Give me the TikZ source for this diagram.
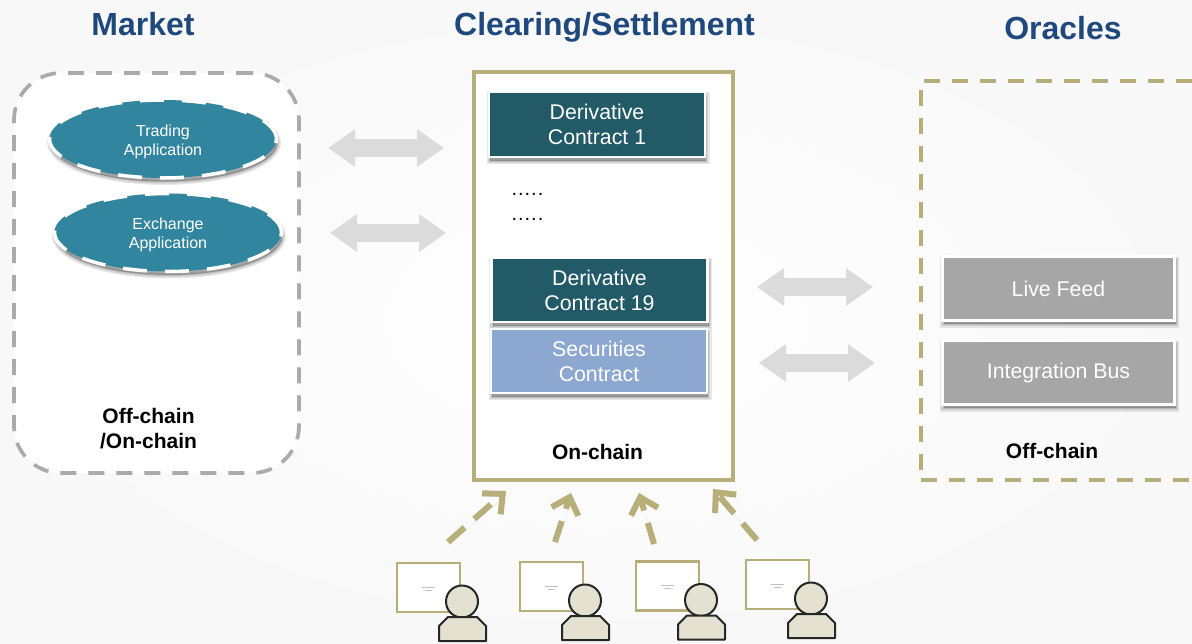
\documentclass[tikz,border=0pt]{standalone}
\usepackage{fontspec}
\setmainfont{Liberation Sans}
\usetikzlibrary{arrows.meta,shapes.geometric}

\definecolor{titleblue}{HTML}{1F497D}
\definecolor{olive}{HTML}{B8AE7A}
\definecolor{tealapp}{HTML}{31859F}
\definecolor{darkteal}{HTML}{225A68}
\definecolor{softblue}{HTML}{8CA8D0}
\definecolor{feedgray}{HTML}{A6A6A6}
\definecolor{dashgray}{HTML}{ABABAB}
\definecolor{arrowgray}{HTML}{DBDBDB}
\definecolor{userfill}{HTML}{E4E1D0}
\definecolor{pagegray}{HTML}{F8F8F9}

\tikzset{
	shadowlayer/.style = {preaction={draw=black, fill=black, solid, opacity=.09, line width=#1,
		transform canvas={shift={(1pt,-3.5pt)}}}},
	softshadow/.style = {shadowlayer=7pt, shadowlayer=4.5pt, shadowlayer=2pt},
	heading/.style = {text=titleblue, font=\fontsize{32}{36}\selectfont\bfseries},
	caption/.style = {align=center, text=black, font=\fontsize{21}{25}\selectfont\bfseries},
	apptext/.style = {align=center, text=white, yshift=-2.5pt, font=\fontsize{16}{19}\selectfont},
	appnode/.style = {ellipse, softshadow, fill=tealapp, draw=white, line width=3.5pt,
		dash pattern=on 24pt off 18pt, minimum width=227pt, minimum height=78pt, inner sep=0pt},
	contract/.style = {rectangle, softshadow, draw=white, line width=2.5pt, fill=darkteal,
		minimum width=216pt, minimum height=64pt, inner sep=0pt,
		align=center, text=white, font=\fontsize{21.3}{25}\selectfont},
	feedbox/.style = {contract, fill=feedgray, minimum width=232pt, minimum height=64pt},
	blockarrow/.style = {draw=arrowgray, line width=18pt,
		{Triangle[length=27pt, width=36pt]}-{Triangle[length=27pt, width=36pt]}},
	userarrow/.style = {draw=olive, line width=6pt, dash pattern=on 22pt off 13pt,
		-{Straight Barb[length=15pt, width=28pt, line width=6pt]},
		preaction={draw=black, opacity=.08, transform canvas={shift={(1.5pt,-3pt)}}}},
	screenbox/.style = {rectangle, draw=olive, fill=white, line width=2.7pt,
		minimum width=63pt, minimum height=49pt, inner sep=0pt},
	userpart/.style = {draw=black!85, fill=userfill, line width=2pt, line join=round},
}

\begin{document}
\begin{tikzpicture}[x=1pt, y=-1pt]
	\useasboundingbox (0,0) rectangle (1192,643);
	\shade[inner color=white, outer color=pagegray] (0,0) rectangle (1192,643);

	% the three panels
	\node[rectangle, draw=dashgray, fill=white, line width=3.7pt, rounded corners=47pt,
		dash pattern=on 16pt off 12pt, minimum width=285pt, minimum height=400pt] (market) at (156.5,273) {};
	\node[rectangle, draw=olive, fill=white, line width=4pt,
		minimum width=259pt, minimum height=408pt] (clearing) at (603.5,276) {};
	\node[rectangle, draw=olive, line width=3.7pt, dash pattern=on 16pt off 12pt,
		minimum width=300pt, minimum height=399pt] (oracles) at (1071,280.5) {};

	\node[heading] (markettitle) at (143,24) {Market};
	\node[heading] (clearingtitle) at (604.5,27) {Clearing/Settlement};
	\node[heading] (oraclestitle) at (1063,28) {Oracles};

	\node[appnode, label={[apptext]center:{Trading\\Application}}] (trading) at (163,139) {};
	\node[appnode, label={[apptext]center:{Exchange\\Application}}] (exchange) at (168,232.5) {};

	\node[contract, minimum height=65pt] (contract1) at (597,124.5) {Derivative\\Contract 1};
	\node[anchor=west, align=left, font=\fontsize{20}{25}\selectfont\addfontfeatures{LetterSpace=5}] (dots) at (508,207) {.....\\.....};
	\node[contract] (contract19) at (599.5,290) {Derivative\\Contract 19};
	\node[contract, fill=softblue] (securities) at (599,361) {Securities\\Contract};

	\node[feedbox] (livefeed) at (1058.5,288.5) {Live Feed};
	\node[feedbox] (intbus) at (1058.5,372.5) {Integration Bus};

	\node[caption] (marketlabel) at (148.5,429) {Off-chain\\/On-chain};
	\node[caption] (clearinglabel) at (597.5,452) {On-chain};
	\node[caption] (oracleslabel) at (1052,451) {Off-chain};

	% block arrows
	\coordinate (a1l) at (328,148);
	\coordinate (a1r) at (444,148);
	\coordinate (a2l) at (330,233);
	\coordinate (a2r) at (446,233);
	\coordinate (a3l) at (757,287);
	\coordinate (a3r) at (873,287);
	\coordinate (a4l) at (759,363);
	\coordinate (a4r) at (875,363);
	\draw[blockarrow] (a1l) -- (a1r);
	\draw[blockarrow] (a2l) -- (a2r);
	\draw[blockarrow] (a3l) -- (a3r);
	\draw[blockarrow] (a4l) -- (a4r);

	% users, each with a screen
	\foreach \n/\dx/\dy in {1/0/0, 2/123/-1, 3/239/-1.5, 4/349/-3}{
		\node[screenbox] (screen\n) at (428.5+\dx,587.5+\dy) {};
		\draw[black!25, line width=.5pt] (422+\dx,587+\dy) -- (435+\dx,587+\dy)
			(425+\dx,590+\dy) -- (432+\dx,590+\dy);
		\node[circle, userpart, minimum size=32pt, inner sep=0pt] (head\n) at (462+\dx,601.5+\dy) {};
		\draw[userpart] (448+\dx,617+\dy) -- (477+\dx,617+\dy) -- (486+\dx,626+\dy) -- (486+\dx,641+\dy)
			-- (439+\dx,641+\dy) -- (439+\dx,626+\dy) -- cycle;
	}

	% dashed arrows towards the clearing panel
	\coordinate (u1a) at (448,542);
	\coordinate (u1b) at (506,491);
	\coordinate (u2a) at (555,542);
	\coordinate (u2b) at (571,493);
	\coordinate (u3a) at (654,544);
	\coordinate (u3b) at (639,493);
	\coordinate (u4a) at (757,540);
	\coordinate (u4b) at (713,489);
	\draw[userarrow] (u1a) -- (u1b);
	\draw[userarrow] (u2a) -- (u2b);
	\draw[userarrow] (u3a) -- (u3b);
	\draw[userarrow] (u4a) -- (u4b);
\end{tikzpicture}
\end{document}
